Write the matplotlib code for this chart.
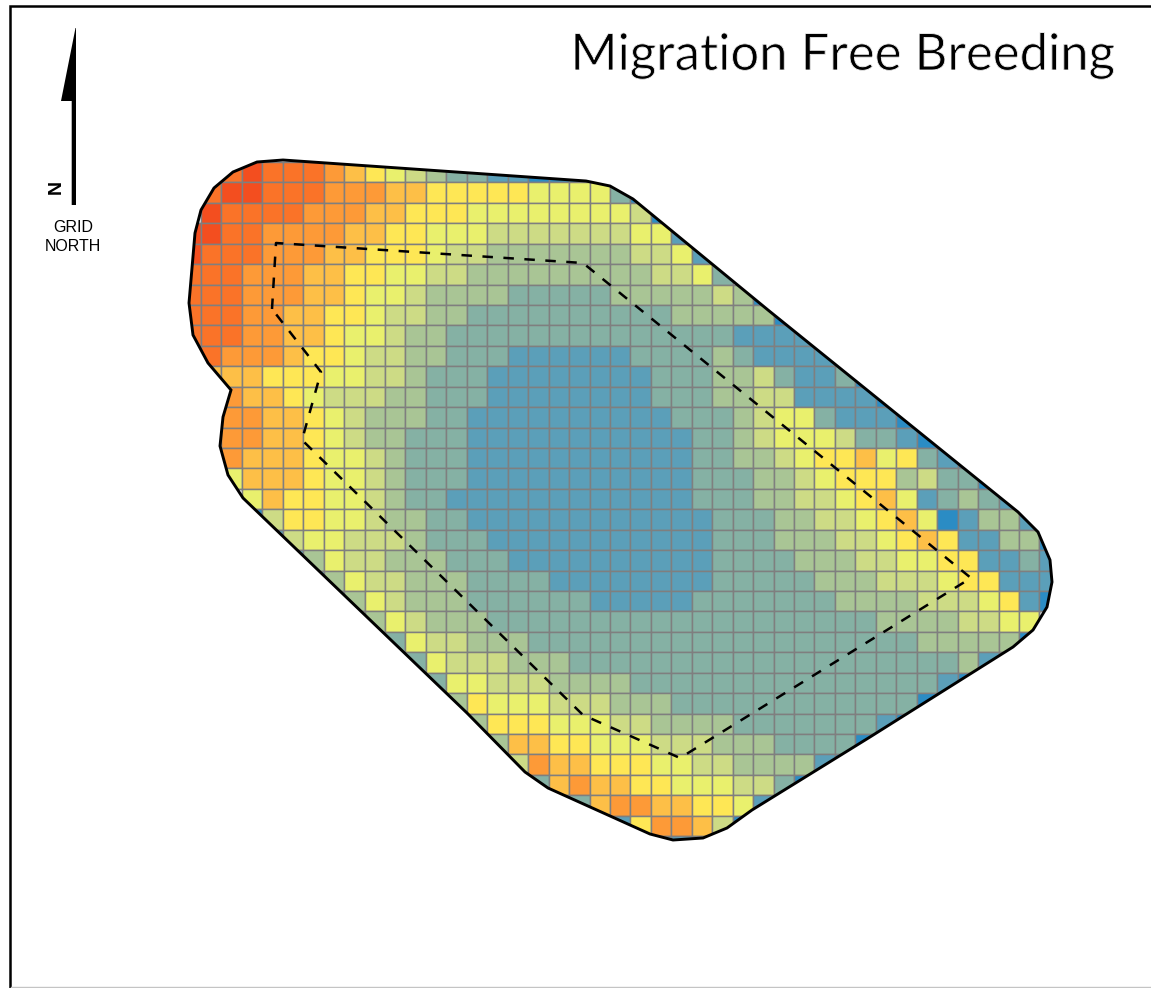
import matplotlib
matplotlib.use('Agg')
import matplotlib.pyplot as plt
import matplotlib.patheffects as pe
import numpy as np
from matplotlib.colors import ListedColormap
from matplotlib.patches import Polygon

# class colours, 0 = lowest (deep blue) ... a = highest (red orange)
class_colors = ['#2b8cc4', '#5b9fb9', '#85b1a4', '#a9c595', '#cddb85', '#e9f06d',
                '#fee755', '#fdbf47', '#fd9a37', '#fa7328', '#f34e1f']

# first column of every row
row_start = [2, 1, 1, 0, 0, 0, 0, 0, 0, 0, 1, 2, 2, 2, 2, 2, 3,
             3, 4, 5, 6, 7, 8, 10, 11, 12, 13, 14, 15, 16, 17, 18, 21, 23]

# class of each cell in the row (spaces only group runs)
row_cells = [
    '9a999 8 7 6 5 4 3 22 11 000',
    '9aa 999 888 77 66666 5555 2 0',
    'a9999 888 77 666 55555555 4 0',
    'aa99 8888 77 66 555 4444444 55 1',
    'a999 888 77 666 5 44 3333333 44 5 1',
    '999 888 77 66 55 44 333333333 44 5 2',
    '999 888 77 6 55 4 3333 22222 33333 4 3 0',
    '999 88 77 66 5 44 33 2222222222 33333 0',
    '999 88 77 6 55 4 33 22222222222222 1111',
    '9 9 888 7 66 5 44 33 222 111111 2222 3 2 1111',
    '7 77 666 55 44 3 222 11111111 222 33 4 2 11 2 0',
    '8 77 6 5 444 33 222 11111111 222 33 44 1111 0',
    '88 77 6 5 4 333 22 1111111111 222 3 4 55 2 111 0',
    '88 77 6 5 4 33 222 11111111111 22 3 4 555 4 22 1 0',
    '8 777 6 55 4 3 222 11111111111 22 33 4 5 66 7 5 6 2 1 0',
    '5 777 6 55 4 3 222 11111111111 222 33 4 5 666 3 4 22 0',
    '5 7 66 55 4 3 22 111111111111 222 33 44 5 6 7 5 1 2 3 2 1',
    '0 4 66 55 4 33 22 111111111111 222 33 44 5 6 7 5 0 1 33 1',
    '1 4 55 444 3 222 11111111111 222 333 44 5 6 7 6 11 33 0',
    '1 3 5 44 333 222 1111111111 2222 333 44 55 66 11 2 1',
    '1 3 5 44 333 2222 11111111 22222 333 444 5 66 111',
    '1 3 5 4 333 222222 11111 2222222 3333 444 5 6 1 0',
    '3 3 5 4 333 2222222222222222222 3333 44 55',
    '2 5 44 333 2222222222222222222 33333 0',
    '2 5 444 333 2222222222222222222 3 1',
    '2 55 444 3333 222222222222222 1 0',
    '3 6 555 444 333 222222222222 0',
    '3 666 555 44 3333 2222222 1 0',
    '3 77 66 555 444 333 2222 0',
    '4 8 77 666 55 44 3333 1 0',
    '2 7 8 77 66 555 44 2 0',
    '2 2 7 88 77 66 5 1',
    '1 6 88 7 4 0',
    '111',
]

# outline of the area and the inner dashed line, in picture pixels
outline_x = [257, 283, 586, 610, 633, 768, 1018, 1038, 1050, 1052, 1047, 1033, 1013,
             870, 752, 727, 703, 673, 650, 548, 525, 467, 368, 243, 228, 220, 223,
             231, 208, 193, 189, 195, 201, 214, 233]
outline_y = [162, 160, 181, 186, 199, 310, 512, 532, 560, 582, 607, 630, 647,
             737, 810, 828, 838, 840, 834, 788, 772, 713, 618, 498, 475, 446, 417,
             390, 363, 335, 303, 233, 210, 188, 172]
dashed_x = [272, 276, 583, 971, 680, 583, 302, 321, 272]
dashed_y = [309, 243, 263, 578, 758, 715, 440, 372, 309]

title = 'Migration Free Breeding'

n_rows = len(row_cells)
n_cols = 43
cells = np.full((n_rows, n_cols), np.nan)
for r, (start, text) in enumerate(zip(row_start, row_cells)):
    for c, ch in enumerate(text.replace(' ', '')):
        cells[r, start + c] = int(ch, 16)

x_edges = 180.55 + 20.45 * np.arange(n_cols + 1)
y_edges = 162 + 20.43 * np.arange(n_rows + 1)

fig = plt.figure(figsize=(11.51, 9.88), dpi=100)
ax = fig.add_axes([0, 0, 1, 1])
ax.set_xlim(0, 1151)
ax.set_ylim(988, 0)
ax.axis('off')

mesh = ax.pcolormesh(x_edges, y_edges, np.ma.masked_invalid(cells),
                     cmap=ListedColormap(class_colors), vmin=-0.5, vmax=10.5,
                     edgecolors='#7f7f7f', linewidth=1.05, antialiased=True)
outline = Polygon(np.column_stack([outline_x, outline_y]), closed=True,
                  facecolor='none', edgecolor='black', linewidth=2.1, zorder=3)
ax.add_patch(outline)
mesh.set_clip_path(outline)

ax.plot(dashed_x, dashed_y, color='black', linewidth=1.8, dashes=(4.2, 4.2), zorder=4)

# north arrow
ax.add_patch(Polygon([(75.5, 28), (61, 101), (71.7, 101), (71.7, 205), (76, 205), (76, 28)],
                     closed=True, facecolor='black', edgecolor='none'))
ax.text(56.5, 187, 'N', rotation=90, ha='center', va='center', fontsize=14,
        fontweight='bold', family='Liberation Sans')
ax.text(73, 227, 'GRID', ha='center', va='center', fontsize=11.5, family='Liberation Sans')
ax.text(73, 246, 'NORTH', ha='center', va='center', fontsize=11.5, family='Liberation Sans')

# regular Lato is a bit heavy for this title, a thin white edge slims it down
title_text = ax.text(1116, 70, title, ha='right', va='baseline', fontsize=36.6, family='Lato')
title_text.set_path_effects([pe.Normal(), pe.Stroke(linewidth=0.6, foreground='white')])

# frame, black top and left, faint grey at the bottom
ax.plot([10.3, 10.3, 1151], [988, 6.3, 6.3], color='black', linewidth=1.8,
        solid_joinstyle='miter', zorder=5)
ax.plot([11, 1151], [987, 987], color='#c4c4c4', linewidth=1.0, zorder=5)

fig.savefig('out.png', dpi=100)
